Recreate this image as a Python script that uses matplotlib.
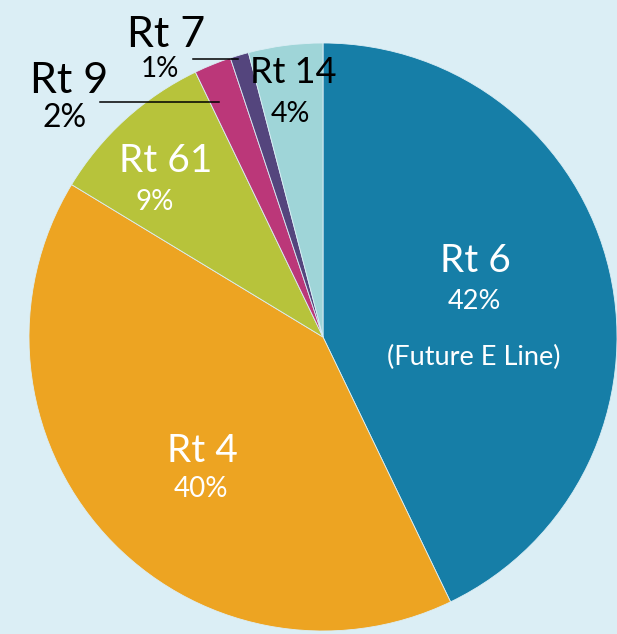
import matplotlib.pyplot as plt

routes = ['Rt 6', 'Rt 4', 'Rt 61', 'Rt 9', 'Rt 7', 'Rt 14']
shares = [42, 40, 9, 2, 1, 4]
colors = ['#167ea7', '#eda422', '#b7c33b', '#bb3779', '#54457d', '#9fd5d8']
bg = '#dbeef5'

W, H = 617, 634
fig = plt.figure(figsize=(W / 100, H / 100), dpi=100)
fig.patch.set_facecolor(bg)
ax = fig.add_axes([0, 0, 1, 1])
ax.set_facecolor(bg)

# pie in pixel coordinates (y measured from the bottom)
ax.pie(shares, colors=colors, startangle=90, counterclock=False,
       center=(323, H - 337), radius=294,
       wedgeprops=dict(edgecolor=bg, linewidth=0.6))
ax.set_xlim(0, W)
ax.set_ylim(0, H)
ax.set_aspect('equal')
ax.axis('off')

font = 'Lato'


def put(x, y, s, size, color):
    # x, y: pixel position of the text baseline centre, y from the top
    ax.text(x, H - y, s, fontsize=size, color=color, family=font,
            ha='center', va='baseline')


# name, percent position and sizes for each label
put(475, 272, routes[0], 28, 'white')
put(474, 309, f'{shares[0]}%', 19.5, 'white')
put(474, 365, '(Future E Line)', 19.5, 'white')

put(202, 462, routes[1], 28, 'white')
put(201, 497, f'{shares[1]}%', 20, 'white')

put(166, 172, routes[2], 28, 'white')
put(155, 210, f'{shares[2]}%', 20, 'white')

put(69, 93, routes[3], 31, 'black')
put(65, 127, f'{shares[3]}%', 23, 'black')

put(166, 47, routes[4], 31, 'black')
put(160, 77, f'{shares[4]}%', 20, 'black')

put(293, 83, routes[5], 26, 'black')
put(290, 122, f'{shares[5]}%', 20.5, 'black')

# leader lines for the thin slices
ax.plot([100, 219], [H - 102, H - 102], color='black', lw=1.1)
ax.plot([193, 238], [H - 59, H - 59], color='black', lw=1.1)

fig.savefig('out.png', dpi=100, facecolor=bg)
